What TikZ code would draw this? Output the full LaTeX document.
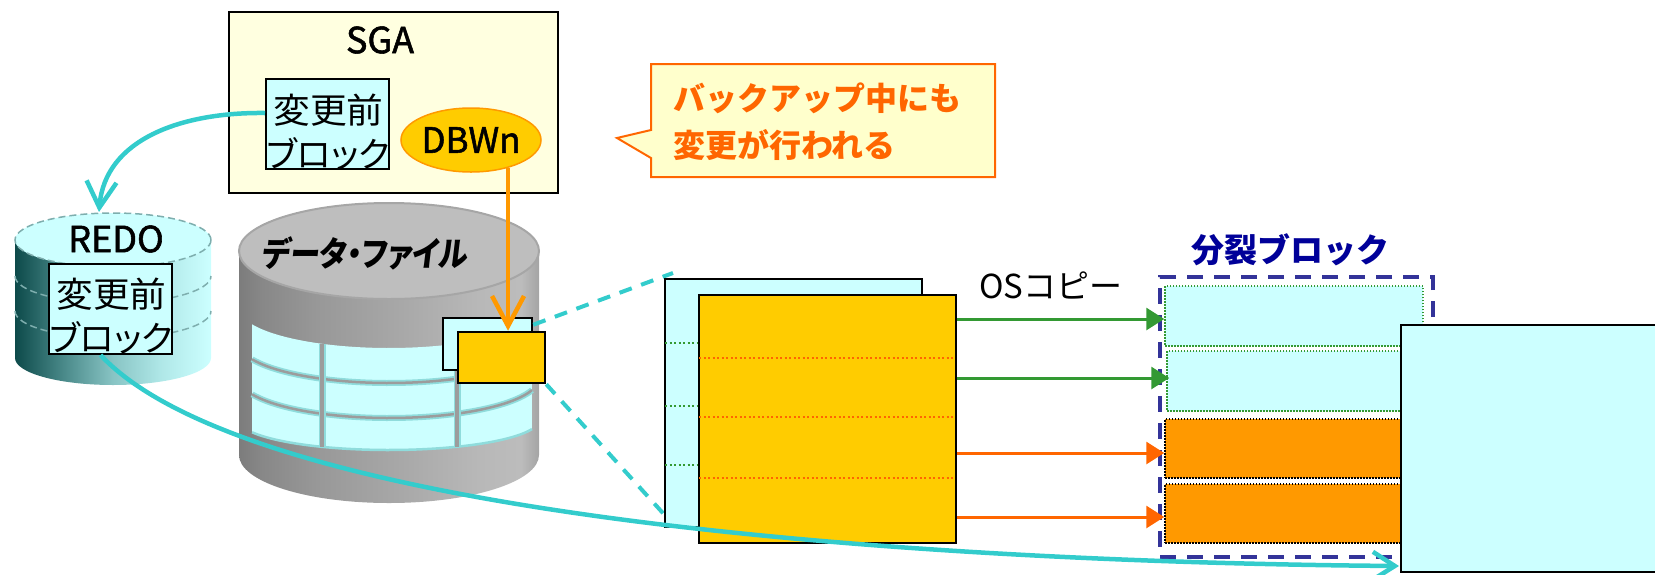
\documentclass[tikz,border=0pt]{standalone}
\usepackage{fontspec}
\setmainfont{Noto Sans CJK JP}
\newfontfamily\propfont{Noto Sans CJK JP}[CharacterWidth=AlternateProportional]
\newfontfamily\heavyfont{Noto Sans CJK JP}[FakeBold=1.5]
\newfontfamily\wideface{Noto Sans CJK JP}[FakeStretch=1.05]
\usetikzlibrary{arrows.meta,shapes.geometric,calc}

\definecolor{memfill}{HTML}{FFFFE0}
\definecolor{lcyan}{HTML}{CCFFFF}
\definecolor{gold}{HTML}{FFCC00}
\definecolor{amber}{HTML}{FF9900}
\definecolor{notefill}{HTML}{FFFFCC}
\definecolor{vermil}{HTML}{FF6600}
\definecolor{teallink}{HTML}{33CCCC}
\definecolor{frameblue}{HTML}{333399}
\definecolor{titleblue}{HTML}{000099}
\definecolor{copygreen}{HTML}{339933}
\definecolor{redodark}{HTML}{0D4A4A}
\definecolor{redoq}{HTML}{4A8A8A}
\definecolor{redomid}{HTML}{88C4C4}
\definecolor{redoh}{HTML}{B0E8E8}
\definecolor{diskrim}{HTML}{7EAEAE}
\definecolor{gA}{HTML}{7C7C7C}
\definecolor{gB}{HTML}{888888}
\definecolor{gC}{HTML}{989898}
\definecolor{gD}{HTML}{A8A8A8}
\definecolor{gE}{HTML}{B8B8B8}
\definecolor{gF}{HTML}{BCBCBC}
\definecolor{gG}{HTML}{A4A4A4}
\definecolor{topgray}{HTML}{BEBEBE}
\definecolor{rimgray}{HTML}{A6A6A6}
\definecolor{mullion}{HTML}{9C9C9C}
\definecolor{paneedge}{HTML}{8FDCDC}

% side shadings of the two cylinders (stops between 25bp and 75bp span the path)
\pgfdeclarehorizontalshading{redoside}{100bp}{color(0bp)=(redodark); color(25bp)=(redodark); color(37.5bp)=(redoq); color(50bp)=(redomid); color(62.5bp)=(redoh); color(75bp)=(lcyan); color(100bp)=(lcyan)}
\pgfdeclarehorizontalshading{dataside}{100bp}{color(0bp)=(gA); color(25bp)=(gA); color(29bp)=(gB); color(38bp)=(gC); color(52bp)=(gD); color(65bp)=(gE); color(72bp)=(gF); color(75bp)=(gG); color(100bp)=(gG)}

\tikzset{
  edged/.style={draw=black, line width=2pt, inner sep=0pt},
  cyanbox/.style={edged, fill=lcyan},
  goldbox/.style={edged, fill=gold},
  blocktext/.style={align=center, inner sep=0pt, font=\fontsize{35}{44}\selectfont},
  tealline/.style={draw=teallink, line width=4.5pt},
  tealarrow/.style={tealline, -{Straight Barb[length=26pt,width=30pt]}},
  zoomedge/.style={draw=teallink, line width=4pt, dash pattern=on 13pt off 10pt},
  copyarrow/.style={line width=3pt, -{Triangle[length=18pt,width=22pt]}},
  greenslot/.style={fill=lcyan, draw=copygreen, line width=1.5pt, dash pattern=on 1.5pt off 1.5pt, minimum width=258pt, inner sep=0pt},
  orangeslot/.style={fill=amber, draw=black, line width=1.5pt, dash pattern=on 1.5pt off 1.5pt, minimum width=258pt, inner sep=0pt},
  diskline/.style={draw=diskrim, line width=1.5pt, dash pattern=on 7pt off 4pt},
}

\begin{document}
\begin{tikzpicture}[x=1pt, y=-1pt, font=\fontsize{34}{40}\selectfont]
\useasboundingbox (0,0) rectangle (1655,574);

% ---------- REDO log: a stack of three disks
\shade[shading=redoside] (15,240) -- (15,358)
  arc[start angle=180, end angle=360, x radius=98pt, y radius=27pt] -- (211,240) -- cycle;
\foreach \c in {276,311}
  \draw[diskline] (15,\c) arc[start angle=180, end angle=360, x radius=98pt, y radius=27pt];
\filldraw[fill=lcyan, diskline] (113,240) ellipse[x radius=98pt, y radius=27pt];
\node[inner sep=0pt, font=\heavyfont\fontsize{36}{40}\selectfont] (redolabel) at (116,239) {REDO};
\node[cyanbox, minimum width=123pt, minimum height=90pt] (redoblk) at (110.5,309) {};
\node[blocktext] (redoblktext) at (111.5,316) {{\wideface 変更前}\\{\propfont ブロック}};

% ---------- data file cylinder
\shade[shading=dataside] (239,251) -- (239,455)
  arc[start angle=180, end angle=360, x radius=150pt, y radius=48pt] -- (539,251) -- cycle;
\filldraw[fill=topgray, draw=rimgray, line width=2pt] (389,251) ellipse[x radius=150pt, y radius=48pt];
% window band wrapped round the cylinder
\fill[lcyan] plot[domain=155.9:17.6, samples=50] ({389+150*cos(\x)}, {308+40*sin(\x)})
  -- plot[domain=17.6:155.9, samples=50] ({389+150*cos(\x)}, {420+30*sin(\x)}) -- cycle;
\draw[paneedge, line width=2.5pt] plot[domain=155.9:17.6, samples=50] ({389+150*cos(\x)}, {420+30*sin(\x)});
\foreach \c in {343,378} {
  \draw[paneedge, line width=6pt] plot[domain=155.9:17.6, samples=50] ({389+150*cos(\x)}, {\c+40*sin(\x)});
  \draw[mullion, line width=2.5pt] plot[domain=155.9:17.6, samples=50] ({389+150*cos(\x)}, {\c+40*sin(\x)});
}
\foreach \xx in {322,457} {
  \draw[paneedge, line width=7pt] (\xx,344) -- (\xx,447);
  \draw[mullion, line width=3.5pt] (\xx,344) -- (\xx,447);
}
\begin{scope}[shift={(366,253)}, xslant=0.12, xscale=0.88]
  \node[transform shape, inner sep=0pt, font=\propfont\bfseries\fontsize{34}{40}\selectfont] (datalabel) at (0,0) {データ・ファイル};
\end{scope}

% changed block inside the data file
\node[cyanbox, line width=2.5pt, minimum width=89pt, minimum height=52pt] (oldpage) at (487.5,344) {};
\node[goldbox, line width=2.5pt, minimum width=87pt, minimum height=51pt] (newpage) at (501.5,357.5) {};

% magnification lines
\coordinate (zoomtop) at (673,273);
\coordinate (zoombot) at (671,522);
\draw[zoomedge] ($(oldpage.north east)+(0,8)$) -- (zoomtop);
\draw[zoomedge] (newpage.south east) -- (zoombot);

% ---------- enlarged block: old image behind, new image in front
\node[cyanbox, line width=2.5pt, minimum width=257pt, minimum height=248pt] (bigold) at (793.5,403) {};
\foreach \yy in {343,406,465}
  \draw[copygreen, line width=1.5pt, dash pattern=on 2pt off 2.5pt] (665,\yy) -- (699,\yy);
\node[goldbox, line width=2.5pt, minimum width=257pt, minimum height=248pt] (bignew) at (827.5,419) {};
\foreach \yy in {358,417,478}
  \draw[vermil, line width=1.5pt, dash pattern=on 2pt off 2.5pt] (699,\yy) -- (955,\yy);

% ---------- SGA
\node[edged, fill=memfill, minimum width=329pt, minimum height=181pt] (sga) at (393.5,102.5) {};
\node[inner sep=0pt, font=\heavyfont\fontsize{36}{40}\selectfont] (sgalabel) at (380,40) {SGA};
\node[cyanbox, minimum width=123pt, minimum height=90pt] (sgablk) at (327.5,124) {};
\node[blocktext] (sgablktext) at (328.5,132) {{\wideface 変更前}\\{\propfont ブロック}};
\node[ellipse, fill=gold, draw=amber, line width=1.5pt, minimum width=138pt, minimum height=64pt,
      inner sep=0pt, font=\heavyfont\fontsize{35}{40}\selectfont] (dbwn) at (471,140) {DBWn};

% ---------- callout
\draw[vermil, line width=2pt, fill=notefill] (651,64) -- (995,64) -- (995,177) -- (651,177)
  -- (651,158) -- (617,138) -- (651,130) -- cycle;
\node[anchor=west, align=left, inner sep=0pt, text=vermil, font=\bfseries\fontsize{32}{47}\selectfont]
  (note) at (673,122) {バックアップ中にも\\変更が行われる};

% ---------- writes
\draw[amber, line width=4.5pt, -{Straight Barb[length=30pt,width=32pt]}] (dbwn.-37) -- (dbwn.-37 |- newpage.north);
\coordinate (redotop) at (99,212);
\draw[tealarrow] ($(sgablk.west)+(0,-11)$) .. controls (180,112) and (105,140) .. (redotop);

% ---------- split block after OS copy
\node[draw=frameblue, line width=4pt, dash pattern=on 16pt off 11pt, minimum width=273pt, minimum height=280pt,
      inner sep=0pt] (split) at (1296.5,417) {};
\node[greenslot, minimum height=60pt] (s1) at (1294,316) {};
\node[greenslot, minimum height=60pt] (s2) at (1296,381) {};
\node[orangeslot, minimum height=59pt] (s3) at (1294,448.5) {};
\node[orangeslot, minimum height=59pt] (s4) at (1294,513.5) {};
\node[inner sep=0pt, text=titleblue, font=\bfseries\fontsize{33}{40}\selectfont] (splittitle) at (1290,250) {分裂ブロック};
\node[inner sep=0pt, font=\fontsize{33}{40}\selectfont] (oscopy) at (1051,285) {OSコピー};

\draw[copyarrow, copygreen] ($(bignew.east |- s1.west)+(0,3)$) -- ($(s1.west)+(0,3)$);
\draw[copyarrow, copygreen] ($(bignew.east |- s2.west)+(0,-3)$) -- ($(s2.west)+(3,-3)$);
\draw[copyarrow, vermil] ($(bignew.east |- s3.west)+(0,4.5)$) -- ($(s3.west)+(0,4.5)$);
\draw[copyarrow, vermil] ($(bignew.east |- s4.west)+(0,3.5)$) -- ($(s4.west)+(0,3.5)$);

% ---------- redo record applied to the copy
\coordinate (logend) at (1399,566);
\draw[tealline, -{Straight Barb[length=22pt,width=28pt]}] ($(redoblk.south)+(-10,0)$)
  .. controls (250,515) and (900,562) .. (logend);

\node[cyanbox, line width=2.5pt, minimum width=300pt, minimum height=247pt] (bigcopy) at (1551,448.5) {};
\end{tikzpicture}
\end{document}
